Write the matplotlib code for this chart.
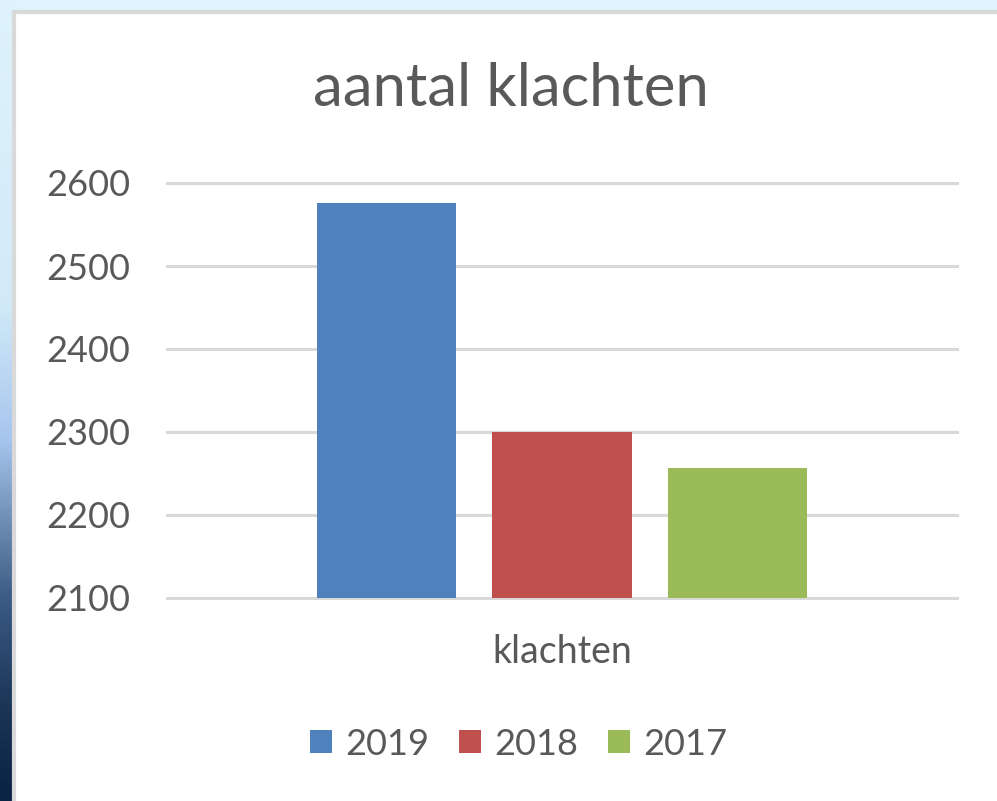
import numpy as np
import matplotlib
matplotlib.use("Agg")
import matplotlib.pyplot as plt
from matplotlib.colors import LinearSegmentedColormap
from matplotlib.patches import Rectangle

# data
years = ["2019", "2018", "2017"]
klachten = [2576, 2300, 2257]
category = ["klachten"]
colors = ["#4f81bd", "#c0504d", "#9bbb59"]
yticks = [2100, 2200, 2300, 2400, 2500, 2600]

TXT = "#595959"
GRID = "#d9d9d9"
plt.rcParams["font.family"] = ["Lato", "DejaVu Sans"]

W, H = 997, 801
fig = plt.figure(figsize=(W / 100, H / 100), dpi=100, facecolor="#def3fb")

# left strip: blue desktop gradient behind the chart window
strip = fig.add_axes([0, 0, 14 / W, 1])
strip.set_axis_off()
grad = LinearSegmentedColormap.from_list(
    "strip", [(0, "#0a2244"), (0.12, "#1c3658"), (0.25, "#3a5a84"),
              (0.35, "#6f8fb5"), (0.45, "#a6c5ee"), (0.62, "#d2eaf8"),
              (1, "#def3fb")])
strip.imshow(np.linspace(0, 1, 256)[::-1].reshape(-1, 1), aspect="auto",
             cmap=grad, extent=[0, 1, 0, 1])

# white chart panel with grey border
fig.patches.append(Rectangle((14 / W, -0.05), 1.1, 1 - 12 / H + 0.05,
                             transform=fig.transFigure, facecolor="white",
                             edgecolor=GRID, linewidth=3, zorder=1))

ax = fig.add_axes([167 / W, 1 - 598 / H, 790 / W, 415 / H])
ax.set_zorder(2)
ax.patch.set_alpha(0)

width = 0.176
offsets = [-0.2225, 0.0, 0.2225]
for yr, val, col, off in zip(years, klachten, colors, offsets):
    ax.bar(off, val, width=width, color=col, label=yr, zorder=3)

ax.set_xlim(-0.5, 0.5)
ax.set_ylim(2100, 2600)
ax.set_yticks(yticks)
ax.set_yticklabels([str(t) for t in yticks], fontsize=26, color=TXT)
ax.set_xticks([0])
ax.set_xticklabels(category, fontsize=27, color=TXT)
ax.tick_params(axis="both", length=0)
ax.tick_params(axis="y", pad=26.5)
ax.tick_params(axis="x", pad=26)
for s in ax.spines.values():
    s.set_visible(False)
for t in yticks:
    ax.axhline(t, color=GRID, linewidth=2.2, zorder=2, clip_on=False)

fig.text(511 / W, 1 - 89 / H, "aantal klachten", ha="center", va="center",
         fontsize=43, color=TXT)

ax.legend(loc="center", bbox_to_anchor=(0.445, -0.352), ncol=3, frameon=False,
          fontsize=26, labelcolor=TXT, handlelength=0.61, handleheight=0.61,
          handletextpad=0.36, columnspacing=0.83)

fig.savefig("out.png", dpi=100, facecolor=fig.get_facecolor())
